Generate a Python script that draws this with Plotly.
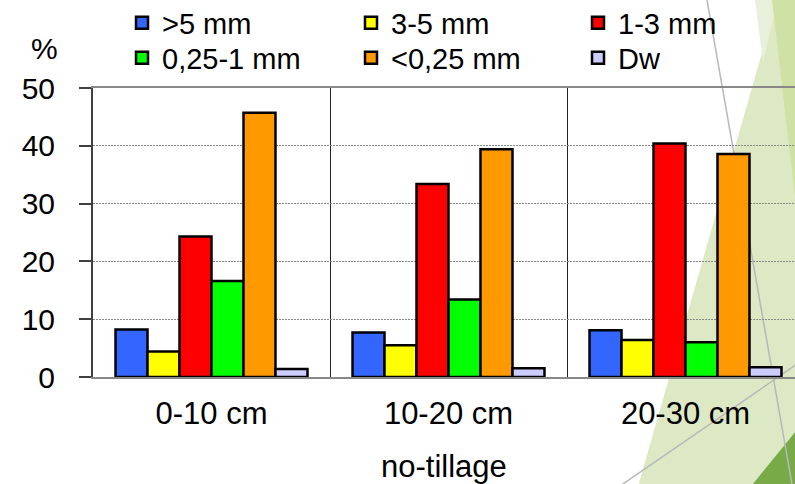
import plotly.graph_objects as go

# ---------------- data ----------------
depths = ["0-10 cm", "10-20 cm", "20-30 cm"]
series_names = [">5 mm", "3-5 mm", "1-3 mm", "0,25-1 mm", "<0,25 mm", "Dw"]
gt5_mm = [8.2, 7.7, 8.1]
mm3_5 = [4.4, 5.5, 6.4]
mm1_3 = [24.3, 33.4, 40.4]
mm025_1 = [16.6, 13.4, 6.0]
lt025_mm = [45.7, 39.4, 38.6]
dw = [1.4, 1.5, 1.7]
y_tick_vals = [0, 10, 20, 30, 40, 50]
x_title = "no-tillage"
y_title = "%"

series_values = [gt5_mm, mm3_5, mm1_3, mm025_1, lt025_mm, dw]
colors = ["#3366FF", "#FFFF00", "#FF0000", "#00FF00", "#FF9900", "#CCCCFF"]

# ---------------- geometry ----------------
W, H = 795, 484
L, T, B, R = 93, 88, 107, 0
PW, PH = W - L - R, H - T - B
FONT = "Liberation Sans, Arial, sans-serif"


def px(x):
    return (x - L) / PW


def py(y):
    return (H - B - y) / PH


# legend entry text start (px) / row centre (px): 3 columns x 2 rows
legend_text_x = [162, 391, 618]
legend_row_y = [23, 58]
TEXT_OFFSET = 40  # distance from legend box left to entry text

fig = go.Figure()
legend_layouts = {}
for i, (name, vals, col) in enumerate(zip(series_names, series_values, colors)):
    lid = "legend" if i == 0 else f"legend{i + 1}"
    fig.add_trace(go.Bar(
        x=depths, y=vals, name=name, legend=lid, showlegend=True,
        marker=dict(color=col, line=dict(color="black", width=2.5)),
    ))
    col_i, row_i = i % 3, i // 3
    legend_layouts[lid] = dict(
        visible=True,
        orientation="v", x=px(legend_text_x[col_i] - TEXT_OFFSET), xanchor="left",
        y=py(legend_row_y[row_i]), yanchor="middle",
        font=dict(size=29, family=FONT), bgcolor="rgba(0,0,0,0)",
        borderwidth=0, itemwidth=30,
    )


# decorative slide background (green facets and thin lines)
def poly(points, color):
    path = "M " + " L ".join(f"{px(a):.5f},{py(b):.5f}" for a, b in points) + " Z"
    return dict(type="path", xref="paper", yref="paper", path=path,
                fillcolor=color, line=dict(width=0), layer="below")


def seg(p0, p1, color="#b8b8b8", width=1.5):
    return dict(type="line", xref="paper", yref="paper",
                x0=px(p0[0]), y0=py(p0[1]), x1=px(p1[0]), y1=py(p1[1]),
                line=dict(color=color, width=width), layer="below")


shapes = [
    poly([(777, 0), (800, 0), (800, 490), (637, 490)], "#dde9c4"),
    poly([(755, 0), (778, 0), (763, 62)], "#e8f0db"),
    poly([(772, 0), (800, 0), (800, 240)], "#d0e1a6"),
    poly([(748, 490), (800, 426), (800, 490)], "#78ab47"),
    seg((707, 0), (793, 490)),
    seg((620, 486), (800, 362)),
]

fig.update_layout(
    width=W, height=H, autosize=False, showlegend=True,
    margin=dict(l=L, r=R, t=T, b=B, pad=0, autoexpand=False),
    paper_bgcolor="white", plot_bgcolor="rgba(0,0,0,0)",
    font=dict(family=FONT, color="black", size=30),
    barmode="group", bargap=0.19, bargroupgap=0,
    shapes=shapes,
    xaxis=dict(type="category", range=[-0.5, -0.5 + PW / 237.0],
               tickson="boundaries", showgrid=True, gridcolor="#222222", gridwidth=1,
               showline=True, linecolor="#888888", linewidth=2, mirror=True,
               ticks="", tickfont=dict(size=31), ticklabelstandoff=8, zeroline=False),
    yaxis=dict(range=[0, 50], tickvals=y_tick_vals, ticks="outside", ticklen=12,
               tickwidth=2, tickcolor="#404040", showline=True, linecolor="#404040",
               linewidth=2, showgrid=True, gridcolor="#888888", griddash="2px,1px",
               gridwidth=1, tickfont=dict(size=30), ticklabelstandoff=18, zeroline=False),
    annotations=[
        dict(text=x_title, xref="paper", yref="paper", x=px(444), y=py(466),
             xanchor="center", yanchor="middle", showarrow=False, font=dict(size=31)),
        dict(text=y_title, xref="paper", yref="paper", x=px(45), y=py(49),
             xanchor="center", yanchor="middle", showarrow=False, font=dict(size=30)),
    ],
    **legend_layouts,
)

fig.write_html(
    "out.html",
    config={"displayModeBar": False},
    post_script="document.body.style.margin='0';document.body.style.overflow='hidden';",
)
